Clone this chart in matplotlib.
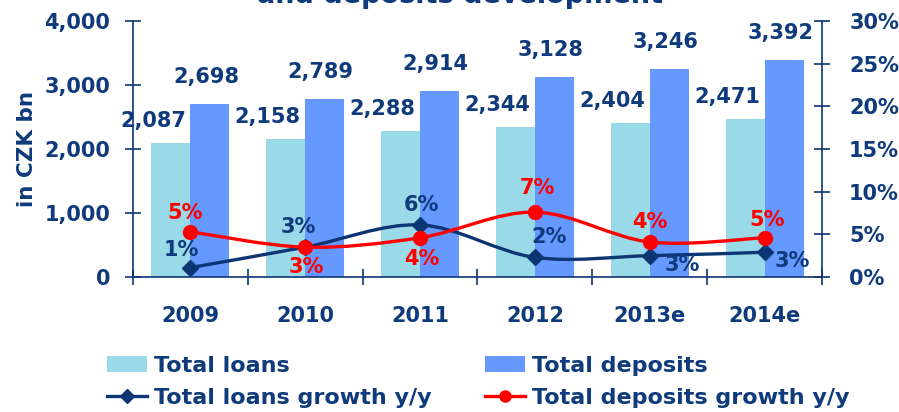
import matplotlib
matplotlib.use("Agg")
import matplotlib.pyplot as plt
from matplotlib.path import Path
from matplotlib.patches import PathPatch, Patch
from matplotlib.lines import Line2D
from matplotlib.ticker import FuncFormatter, MultipleLocator, FixedLocator

# ---------------- data ----------------
years = ["2009", "2010", "2011", "2012", "2013e", "2014e"]
total_loans = [2087, 2158, 2288, 2344, 2404, 2471]
total_deposits = [2698, 2789, 2914, 3128, 3246, 3392]
loans_growth = [1.1, 3.5, 6.1, 2.3, 2.5, 2.9]          # % y/y
deposits_growth = [5.3, 3.5, 4.6, 7.6, 4.1, 4.6]       # % y/y
loans_growth_labels = ["1%", "3%", "6%", "2%", "3%", "3%"]
deposits_growth_labels = ["5%", "3%", "4%", "7%", "4%", "5%"]

# ---------------- style ----------------
NAVY_TXT = "#0F3A7B"
NAVY_LINE = "#0C3574"
RED = "#FF0000"
C_LOANS = "#9AD9E7"
C_DEPS = "#6699FF"
FONT = "DejaVu Sans"
plt.rcParams["font.family"] = [FONT]
plt.rcParams["font.weight"] = "bold"

# label offsets (pixels -> points)
PX = 0.72
loans_lbl_off = [(-9, 18), (-7, 20), (1, 20), (14, 20), (33, -9), (28, -9)]
deps_lbl_off = [(-5, 19), (1, -20), (2, -21), (2, 24), (0, 20), (3, 18)]

fig = plt.figure(figsize=(8.99, 4.12), dpi=100)
ax = fig.add_axes([133 / 899, 1 - 277 / 412, (822 - 133) / 899, (277 - 21) / 412])
ax2 = ax.twinx()

x = list(range(len(years)))
bw = 0.34
ax.bar([i - bw / 2 for i in x], total_loans, width=bw, color=C_LOANS, zorder=2)
ax.bar([i + bw / 2 for i in x], total_deposits, width=bw, color=C_DEPS, zorder=2)

for i, v in enumerate(total_loans):
    ax.annotate(f"{v:,}", (i - bw / 2, v), xytext=(-18 * PX, 22 * PX),
                textcoords="offset points", ha="center", va="center",
                fontsize=15, fontweight="bold", color=NAVY_TXT, zorder=5)
for i, v in enumerate(total_deposits):
    ax.annotate(f"{v:,}", (i + bw / 2, v), xytext=(-4 * PX, 27 * PX),
                textcoords="offset points", ha="center", va="center",
                fontsize=15, fontweight="bold", color=NAVY_TXT, zorder=5)

ax.set_xlim(-0.5, len(years) - 0.5)
ax.set_ylim(0, 4000)
ax2.set_ylim(0, 30)


def smooth_path(xs, ys):
    pts = list(zip(xs, ys))
    n = len(pts)
    verts = [pts[0]]
    codes = [Path.MOVETO]
    for i in range(n - 1):
        p0 = pts[i - 1] if i > 0 else pts[i]
        p1 = pts[i]
        p2 = pts[i + 1]
        p3 = pts[i + 2] if i + 2 < n else pts[i + 1]
        c1 = (p1[0] + (p2[0] - p0[0]) / 6, p1[1] + (p2[1] - p0[1]) / 6)
        c2 = (p2[0] - (p3[0] - p1[0]) / 6, p2[1] - (p3[1] - p1[1]) / 6)
        verts += [c1, c2, p2]
        codes += [Path.CURVE4] * 3
    return Path(verts, codes)


ax2.add_patch(PathPatch(smooth_path(x, loans_growth), fill=False,
                        edgecolor=NAVY_LINE, lw=2.4, zorder=3, capstyle="round"))
ax2.plot(x, loans_growth, linestyle="none", marker="D", markersize=8,
         color=NAVY_LINE, zorder=4)
ax2.add_patch(PathPatch(smooth_path(x, deposits_growth), fill=False,
                        edgecolor=RED, lw=2.4, zorder=5, capstyle="round"))
ax2.plot(x, deposits_growth, linestyle="none", marker="o", markersize=10,
         color=RED, zorder=6)

for i, (v, t) in enumerate(zip(loans_growth, loans_growth_labels)):
    dx, dy = loans_lbl_off[i]
    ax2.annotate(t, (i, v), xytext=(dx * PX, dy * PX), textcoords="offset points",
                 ha="center", va="center", fontsize=15, fontweight="bold",
                 color=NAVY_TXT, zorder=7)
for i, (v, t) in enumerate(zip(deposits_growth, deposits_growth_labels)):
    dx, dy = deps_lbl_off[i]
    ax2.annotate(t, (i, v), xytext=(dx * PX, dy * PX), textcoords="offset points",
                 ha="center", va="center", fontsize=15, fontweight="bold",
                 color=RED, zorder=7)

# ---------------- axes styling ----------------
for a in (ax, ax2):
    a.spines["top"].set_visible(False)
    for s in ("left", "right", "bottom"):
        a.spines[s].set_color(NAVY_LINE)
        a.spines[s].set_linewidth(1.2)
ax.spines["right"].set_visible(False)
ax2.spines["left"].set_visible(False)
ax2.spines["bottom"].set_visible(False)

ax.yaxis.set_major_locator(MultipleLocator(1000))
ax.yaxis.set_major_formatter(FuncFormatter(lambda v, p: f"{v:,.0f}"))
ax2.yaxis.set_major_locator(MultipleLocator(5))
ax2.yaxis.set_major_formatter(FuncFormatter(lambda v, p: f"{v:.0f}%"))

ax.tick_params(axis="y", direction="inout", length=11, width=1.2, color=NAVY_LINE,
               pad=11, labelsize=15, labelcolor=NAVY_TXT)
ax2.tick_params(axis="y", direction="inout", length=11, width=1.2, color=NAVY_LINE,
                pad=14, labelsize=15, labelcolor=NAVY_TXT)
for lab in ax.get_yticklabels() + ax2.get_yticklabels():
    lab.set_fontweight("bold")

ax.set_xticks(x)
ax.set_xticklabels(years, fontsize=15, fontweight="bold", color=NAVY_TXT)
ax.tick_params(axis="x", which="major", length=0, pad=21)
ax.xaxis.set_minor_locator(FixedLocator([i - 0.5 for i in range(len(years) + 1)]))
ax.tick_params(axis="x", which="minor", direction="inout", length=12, width=1.2,
               color=NAVY_LINE)

ax.set_ylabel("in CZK bn", fontsize=15.5, fontweight="bold", color=NAVY_TXT)
ax.yaxis.set_label_coords(-(133 - 37) / (822 - 133), 0.5)

# title (only its last line is visible, cut by the top edge as in the reference)
fig.text(460 / 899, 1 - 3 / 412, "and deposits development", ha="center", va="baseline",
         fontsize=19.5, fontweight="bold", color=NAVY_TXT)

# ---------------- legend ----------------
handles = [
    Patch(facecolor=C_LOANS, edgecolor="none"),
    Line2D([], [], color=NAVY_LINE, lw=2.4, marker="D", markersize=7),
    Patch(facecolor=C_DEPS, edgecolor="none"),
    Line2D([], [], color=RED, lw=2.4, marker="o", markersize=8),
]
labels = ["Total loans", "Total loans growth y/y", "Total deposits",
          "Total deposits growth y/y"]
leg = fig.legend(handles, labels, ncol=2, loc="upper left",
                 bbox_to_anchor=(107 / 899, 1 - 356 / 412), frameon=False,
                 borderpad=0, borderaxespad=0, handlelength=1.8, handletextpad=0.32,
                 columnspacing=2.4, labelspacing=0.55,
                 prop={"family": FONT, "weight": "bold", "size": 16})
for t in leg.get_texts():
    t.set_color(NAVY_TXT)

fig.savefig("out.png", dpi=100)
